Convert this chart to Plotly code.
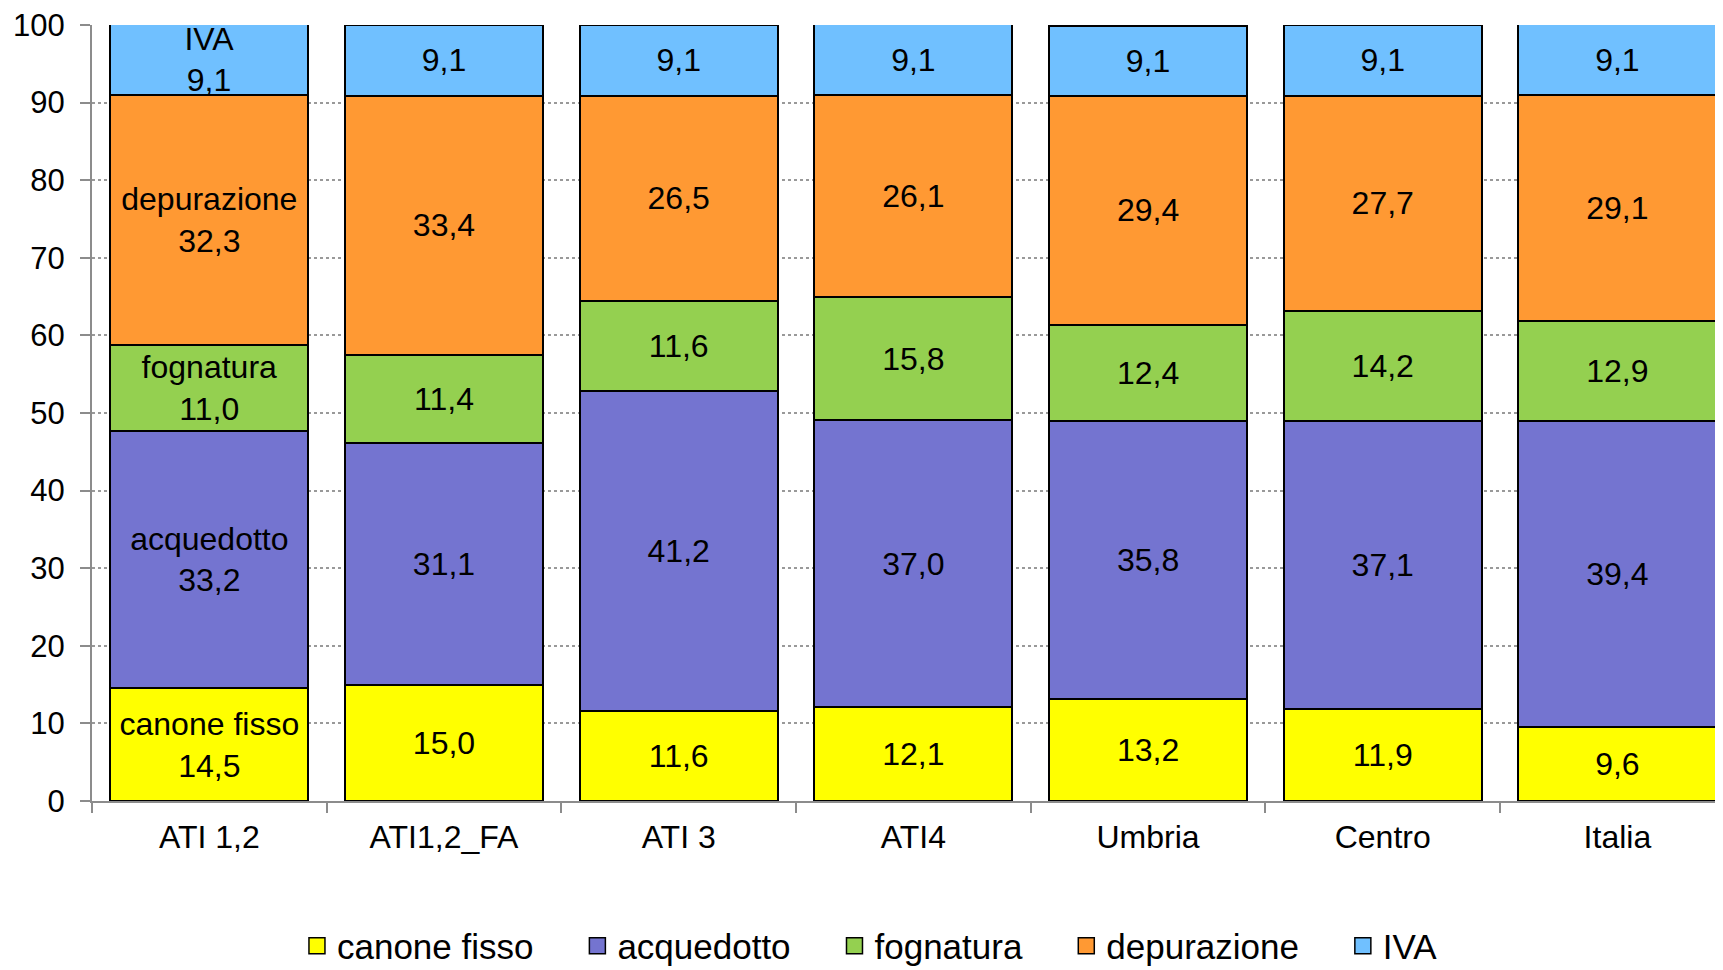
import plotly.graph_objects as go

categories = ["ATI 1,2", "ATI1,2_FA", "ATI 3", "ATI4", "Umbria", "Centro", "Italia"]
canone_fisso = [14.5, 15.0, 11.6, 12.1, 13.2, 11.9, 9.6]
acquedotto = [33.2, 31.1, 41.2, 37.0, 35.8, 37.1, 39.4]
fognatura = [11.0, 11.4, 11.6, 15.8, 12.4, 14.2, 12.9]
depurazione = [32.3, 33.4, 26.5, 26.1, 29.4, 27.7, 29.1]
iva = [9.1, 9.1, 9.1, 9.1, 9.1, 9.1, 9.1]

series_names = ["canone fisso", "acquedotto", "fognatura", "depurazione", "IVA"]
series_values = [canone_fisso, acquedotto, fognatura, depurazione, iva]
colors = ["#FFFF00", "#7474D0", "#94D050", "#FF9933", "#70C0FF"]

FONT = "Liberation Sans, Arial, sans-serif"

fig = go.Figure()
for name, vals, col in zip(series_names, series_values, colors):
    texts = []
    for i, v in enumerate(vals):
        s = f"{v:.1f}".replace(".", ",")
        if i == 0:
            s = f"{name}<br>{s}"
        texts.append(s)
    fig.add_trace(go.Bar(
        x=categories, y=vals, name=name,
        marker=dict(color=col, line=dict(color="black", width=2)),
        text=texts, textposition="inside", insidetextanchor="middle",
        textangle=0, constraintext="none",
        textfont=dict(family=FONT, size=32, color="black"),
        showlegend=False,
    ))

# legend entries with larger square symbols
pad = "\u00a0" * 4
for k, (name, col) in enumerate(zip(series_names, colors)):
    fig.add_trace(go.Scatter(
        x=[None], y=[None], mode="markers",
        name=name + (pad if k < len(series_names) - 1 else ""),
        marker=dict(symbol="square", size=20, color=col,
                    line=dict(color="black", width=1.5)),
        showlegend=True,
    ))

fig.update_layout(
    barmode="stack",
    bargap=0.156,
    width=1715, height=962,
    margin=dict(l=84, r=0, t=17, b=169, autoexpand=False),
    plot_bgcolor="white", paper_bgcolor="white",
    font=dict(family=FONT, color="black"),
    uniformtext=dict(minsize=32, mode="show"),
    legend=dict(
        orientation="h", xref="container", yref="container",
        x=0.5026, xanchor="center", y=0.025, yanchor="middle",
        font=dict(family=FONT, size=35, color="black"),
        itemsizing="trace", traceorder="normal", itemwidth=30,
        bgcolor="rgba(0,0,0,0)",
    ),
    showlegend=True,
)
fig.update_xaxes(
    range=[-0.5, 6.45], automargin=False, ticklabeloverflow="allow",
    showline=True, linecolor="#8c8c8c", linewidth=2,
    ticks="outside", tickson="boundaries", ticklen=10, tickcolor="#8c8c8c", tickwidth=2,
    tickfont=dict(family=FONT, size=32, color="black"),
    ticklabelstandoff=7,
    showgrid=False, zeroline=False,
)
fig.update_yaxes(
    range=[0, 100], dtick=10, tick0=0, automargin=False, ticklabeloverflow="allow",
    showline=True, linecolor="#8c8c8c", linewidth=2,
    ticks="outside", ticklen=10, tickcolor="#8c8c8c", tickwidth=2,
    tickfont=dict(family=FONT, size=31, color="black"),
    ticklabelstandoff=9,
    showgrid=True, gridcolor="#999999", gridwidth=1.5, griddash="dot",
    zeroline=False,
)

fig.write_html("out.html")
